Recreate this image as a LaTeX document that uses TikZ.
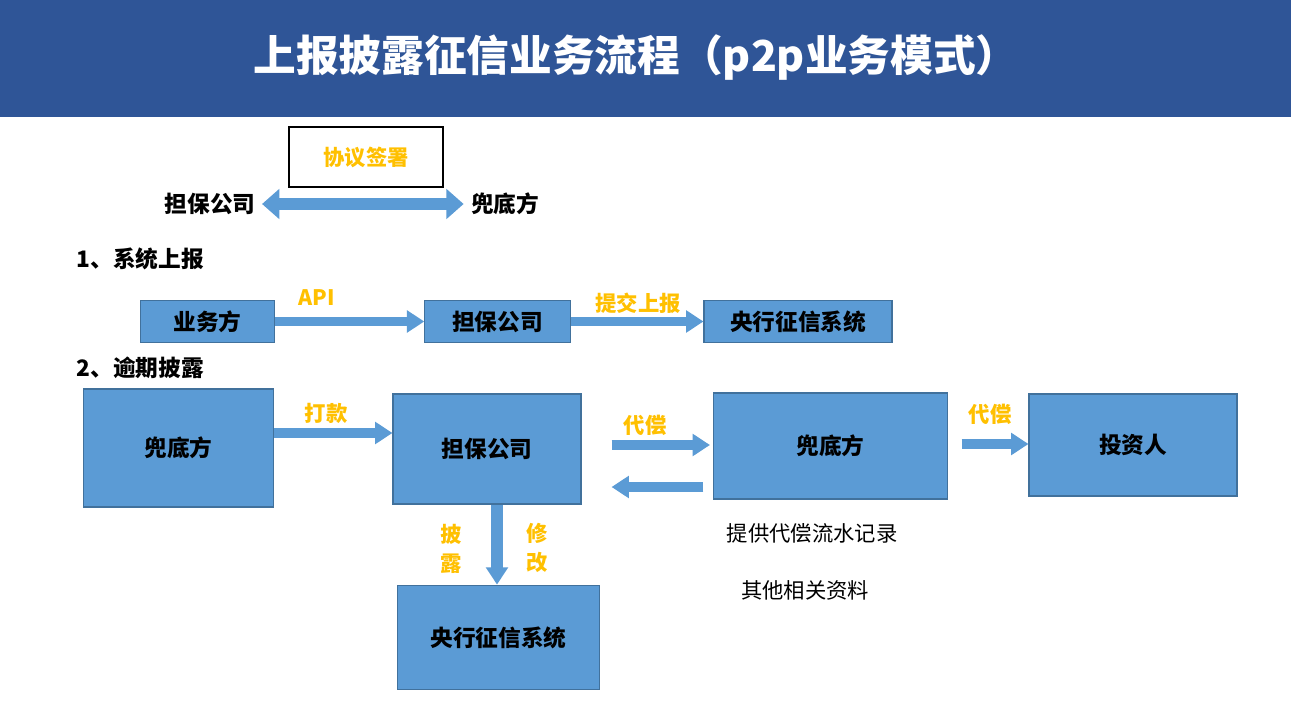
\documentclass[tikz,border=0pt]{standalone}
\usepackage{fontspec}
\setmainfont{Noto Sans CJK SC}
\usetikzlibrary{arrows.meta}
\definecolor{hdr}{RGB}{47,85,151}
\definecolor{bx}{RGB}{91,155,213}
\definecolor{bxd}{RGB}{65,113,156}
\definecolor{org}{RGB}{255,192,0}
\begin{document}
\begin{tikzpicture}[x=0.75pt,y=-0.75pt,
  box/.style={draw=bxd,fill=bx,line width=0.8pt,font=\bfseries\fontsize{17}{20}\selectfont,inner sep=0pt},
  lbl/.style={text=org,font=\bfseries\fontsize{16}{19}\selectfont},
  hd/.style={font=\bfseries\fontsize{17}{20}\selectfont},
  note/.style={font=\fontsize{16}{19}\selectfont},
  blk/.style={draw=bx,line width=7pt,-{Triangle[length=13pt,width=16pt]}},
  blkd/.style={draw=bx,line width=9pt,{Triangle[length=13pt,width=22pt]}-{Triangle[length=13pt,width=22pt]}}]
\useasboundingbox (0,0) rectangle (1291,705);
\fill[white] (0,0) rectangle (1291,705);
\fill[hdr] (0,0) rectangle (1291,117);
\node[text=white,font=\bfseries\fontsize{32}{38}\selectfont] (title) at (636,58) {上报披露征信业务流程（p2p业务模式）};
\node[draw=black,fill=white,line width=0.8pt,minimum width=115.5pt,minimum height=45pt,lbl] (agree) at (366,157) {协议签署};
\node[hd] (g0) at (210,204) {担保公司};
\node[hd] (d0) at (505,204) {兜底方};
\draw[blkd] (g0.east) ++(2,0) coordinate (ga) -- ([xshift=-2pt]d0.west);
\node[hd,anchor=west] (s1) at (72,259) {1、系统上报};
\node[box,minimum width=101pt,minimum height=32pt] (b1) at (207.5,321.5) {业务方};
\node[box,minimum width=109pt,minimum height=32pt] (b2) at (497.5,321.5) {担保公司};
\node[box,minimum width=141pt,minimum height=32pt] (b3) at (798,321.5) {央行征信系统};
\draw[blk] (b1.east) -- (b2.west);
\draw[blk] (b2.east) -- (b3.west);
\node[lbl] (l1) at (317,298) {API};
\node[lbl] (l2) at (638,303) {提交上报};
\node[hd,anchor=west] (s2) at (72,368) {2、逾期披露};
\node[box,minimum width=143pt,minimum height=88.5pt] (c1) at (178.5,448) {兜底方};
\node[box,minimum width=141pt,minimum height=82.5pt] (c2) at (487,449) {担保公司};
\node[box,minimum width=176pt,minimum height=79.5pt] (c3) at (830.5,446) {兜底方};
\node[box,minimum width=156pt,minimum height=76.5pt] (c4) at (1133,445) {投资人};
\node[box,minimum width=151pt,minimum height=78.5pt] (c5) at (498.5,637.5) {央行征信系统};
\draw[blk] (c1.east |- 0,433) -- (c2.west |- 0,433);
\node[lbl] (l3) at (326,413) {打款};
\draw[blk] ([xshift=22.5pt]c2.east |- 0,445) -- ([xshift=-2pt]c3.west |- 0,445);
\draw[blk] ([xshift=-7pt]c3.west |- 0,487) -- ([xshift=22.5pt]c2.east |- 0,487);
\node[lbl] (l4) at (645,425) {代偿};
\draw[blk] ([xshift=10pt]c3.east |- 0,444) -- (c4.west |- 0,444);
\node[lbl] (l5) at (990,414) {代偿};
\draw[blk,line width=9pt] (c2.south -| 497,0) -- (c5.north -| 497,0);
\node[lbl,align=center,font=\bfseries\fontsize{16}{22}\selectfont] (l6) at (451,549) {披\\露};
\node[lbl,align=center,font=\bfseries\fontsize{16}{22}\selectfont] (l7) at (537,548) {修\\改};
\node[note] (n1) at (812,533) {提供代偿流水记录};
\node[note] (n2) at (805,590) {其他相关资料};
\end{tikzpicture}
\end{document}
